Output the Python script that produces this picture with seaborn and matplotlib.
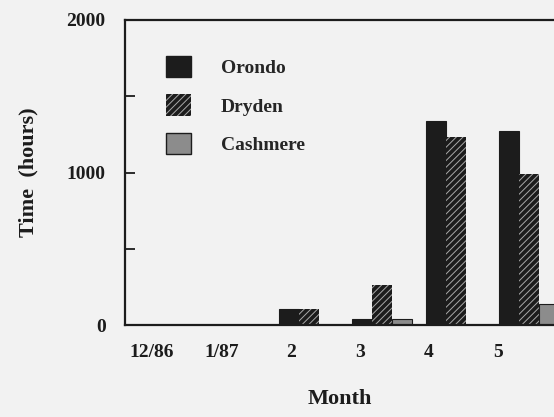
import numpy as np
import pandas as pd
import matplotlib
matplotlib.use("Agg")
import matplotlib.pyplot as plt
import seaborn as sns

# ---------- data ----------
months = ["12/86", "1/87", "2", "3", "4", "5"]
orondo = [0, 0, 105, 40, 1335, 1270]
dryden = [0, 0, 105, 260, 1235, 990]
cashmere = [0, 0, 0, 40, 0, 135]
sites = ["Orondo", "Dryden", "Cashmere"]

df = pd.DataFrame({
    "month": months * 3,
    "site": np.repeat(sites, len(months)),
    "hours": orondo + dryden + cashmere,
})

sns.set_theme(style="white")
plt.rcParams.update({
    "font.family": ["Liberation Serif", "DejaVu Serif"],
    "hatch.linewidth": 0.7,
})

BG = "#f2f2f2"
INK = "#1c1c1c"
HATCH = "#a8a8a8"

fig = plt.figure(figsize=(5.54, 4.17), dpi=100, facecolor=BG)
ax = fig.add_axes([125 / 554, 1 - 325 / 417, 1 - 125 / 554, 305 / 417])
ax.set_facecolor(BG)

sns.barplot(data=df, x="month", y="hours", hue="site", order=months,
            hue_order=sites, palette=[INK, INK, "#8c8c8c"], width=0.82,
            saturation=1, ax=ax, legend=True)

# hatch the Dryden bars, dark border on the others
for bar in ax.containers[1]:
    bar.set_hatch("/////")
    bar.set_edgecolor(HATCH)
    bar.set_linewidth(0)
for i in (0, 2):
    for bar in ax.containers[i]:
        bar.set_edgecolor(INK)
        bar.set_linewidth(0.8)

ax.set_xlim(-0.51, 5.34)
ax.set_ylim(0, 2000)

# month labels sit a bit left of the group centres, as in the scan
ax.set_xticks(-0.14 + 0.944 * np.arange(len(months)))
ax.set_xticklabels(months, fontsize=14)
ax.set_yticks([0, 1000, 2000])
ax.set_yticks([500, 1500], minor=True)
ax.tick_params(axis="y", which="both", direction="in", length=7, width=1.3,
               left=True, labelsize=14, pad=14, colors=INK)
ax.tick_params(axis="x", length=0, pad=14, colors=INK)
for lab in ax.get_yticklabels() + ax.get_xticklabels():
    lab.set_fontweight("bold")

for side in ["left", "bottom", "top"]:
    ax.spines[side].set_color(INK)
    ax.spines[side].set_linewidth(1.6)
ax.spines["right"].set_visible(False)

ax.set_xlabel("Month", fontsize=16, fontweight="bold", labelpad=20, color=INK)
ax.set_ylabel("Time  (hours)", fontsize=16, fontweight="bold", labelpad=20,
              color=INK)

leg = ax.legend(loc="upper left", bbox_to_anchor=(0.055, 0.94), frameon=False,
                handlelength=1.3, handleheight=1.3, labelspacing=0.9,
                handletextpad=1.5, prop={"size": 14, "weight": "bold"})
for h in leg.legend_handles:
    h.set_edgecolor(INK)
    h.set_linewidth(1.0)
leg.legend_handles[1].set_hatch("/////")
leg.legend_handles[1].set_edgecolor(HATCH)
leg.legend_handles[1].set_linewidth(0)

fig.savefig("out.png", dpi=100, facecolor=BG)
